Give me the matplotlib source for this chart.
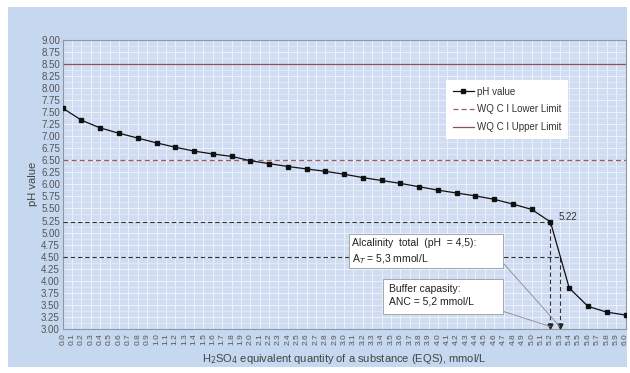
import numpy as np
import matplotlib
matplotlib.use("Agg")
import matplotlib.pyplot as plt
from matplotlib.patches import Rectangle
from matplotlib.ticker import MultipleLocator, FormatStrFormatter

plt.rcParams['font.family'] = ['Liberation Sans', 'DejaVu Sans']

# ---- data ----
eqs = [0.0, 0.2, 0.4, 0.6, 0.8, 1.0, 1.2, 1.4, 1.6, 1.8, 2.0, 2.2, 2.4, 2.6,
       2.8, 3.0, 3.2, 3.4, 3.6, 3.8, 4.0, 4.2, 4.4, 4.6, 4.8, 5.0, 5.2, 5.4,
       5.6, 5.8, 6.0]
ph = [7.58, 7.33, 7.17, 7.06, 6.96, 6.86, 6.77, 6.69, 6.63, 6.58, 6.49, 6.43,
      6.37, 6.32, 6.27, 6.21, 6.14, 6.08, 6.02, 5.95, 5.88, 5.82, 5.76, 5.69,
      5.59, 5.48, 5.22, 3.85, 3.47, 3.35, 3.29]
lower_limit = 6.5
upper_limit = 8.5
buffer_x, buffer_ph = 5.2, 5.22
alk_x, alk_ph = 5.3, 4.5
ymin, ymax = 3.0, 9.0
xmin, xmax = 0.0, 6.0

W, H = 630, 373
fig = plt.figure(figsize=(W/100, H/100), dpi=100, facecolor='white')
bg = '#c6d8ef'
fig.patches.append(Rectangle((8/W, 1-367/H), (627-8)/W, (367-7)/H,
                             transform=fig.transFigure, facecolor=bg,
                             edgecolor='none', zorder=-10))
ax_l, ax_r, ax_t, ax_b = 62.7, 625.5, 39.7, 329.0
ax = fig.add_axes([ax_l/W, 1-ax_b/H, (ax_r-ax_l)/W, (ax_b-ax_t)/H])
ax.set_facecolor('#cfdcf1')

def afrac(px, py):
    """pixel position -> axes fraction"""
    return ((px-ax_l)/(ax_r-ax_l), (ax_b-py)/(ax_b-ax_t))

ax.set_xlim(xmin, xmax)
ax.set_ylim(ymin, ymax)
ax.xaxis.set_major_locator(MultipleLocator(0.1))
ax.xaxis.set_major_formatter(FormatStrFormatter('%.1f'))
ax.yaxis.set_major_locator(MultipleLocator(0.25))
ax.yaxis.set_minor_locator(MultipleLocator(0.125))
ax.yaxis.set_major_formatter(FormatStrFormatter('%.2f'))
ax.grid(True, which='major', color='#eaf1fb', lw=0.8)
ax.grid(True, which='minor', axis='y', color='#e2eaf7', lw=0.6)
ax.set_axisbelow(True)
ax.tick_params(axis='x', labelrotation=90, labelsize=6, length=0,
               colors='#555555', pad=3)
ax.tick_params(axis='y', labelsize=7, length=0, colors='#555555', pad=2)
ax.tick_params(which='minor', length=0)
for s in ax.spines.values():
    s.set_color('#8d97a6')
    s.set_linewidth(0.8)

ax.set_ylabel('pH value', fontsize=8, color='#444444', labelpad=2)
ax.set_xlabel('H$_2$SO$_4$ equivalent quantity of a substance (EQS), mmol/L',
              fontsize=8, color='#444444', labelpad=5)

# limits
ax.axhline(lower_limit, color='#a0585a', lw=0.9, ls=(0, (4, 2.5)),
           label='WQ C I Lower Limit', zorder=2)
ax.axhline(upper_limit, color='#8e5062', lw=0.9, ls='-',
           label='WQ C I Upper Limit', zorder=2)

# guide lines
dash = (0, (4, 2.5))
ax.hlines(buffer_ph, xmin, buffer_x, color='#333333', lw=0.8, ls=dash, zorder=3)
ax.hlines(alk_ph, xmin, alk_x, color='#333333', lw=0.8, ls=dash, zorder=3)
ax.vlines(buffer_x, ymin + 0.04, buffer_ph, color='#333333', lw=0.8, ls=dash, zorder=3)
ax.vlines(alk_x, ymin + 0.04, alk_ph, color='#333333', lw=0.8, ls=dash, zorder=3)
ax.plot([buffer_x, alk_x], [ymin + 0.07, ymin + 0.07], ls='none', marker='v',
        ms=3.5, color='#222222', zorder=4)

# data
ax.plot(eqs, ph, color='#111111', lw=0.9, marker='s', ms=3.2, label='pH value',
        zorder=5)
ax.text(buffer_x + 0.09, buffer_ph + 0.1, '%.2f' % buffer_ph, fontsize=7,
        color='#333333', va='center', ha='left')

# annotation boxes (pixel-measured extents)
def note_box(x0, y0, x1, y1, lines, tx, ty, conn_from, conn_to_x):
    (fx0, fy1) = afrac(x0, y1)
    (fx1, fy0) = afrac(x1, y0)
    ax.add_patch(Rectangle((fx0, fy1), fx1-fx0, fy0-fy1, transform=ax.transAxes,
                           facecolor='white', edgecolor='#9a9a9a', lw=0.6,
                           zorder=6))
    for line, yy in zip(lines, ty):
        p = afrac(tx, yy)
        ax.text(p[0], p[1], line, transform=ax.transAxes, fontsize=7.5,
                color='#222222', ha='left', va='center', zorder=7)
    ax.annotate('', xy=(conn_to_x, ymin + 0.05), xycoords='data',
                xytext=afrac(*conn_from), textcoords='axes fraction',
                arrowprops=dict(arrowstyle='-', color='#8a8a8a', lw=0.6,
                                shrinkA=0, shrinkB=0), zorder=5)

note_box(349, 234, 503, 268,
         ['Alcalinity  total  (pH  = 4,5):', 'A$_T$ = 5,3 mmol/L'],
         352, [243, 259], (504, 264), alk_x)
note_box(383, 279, 503, 314,
         ['Buffer capasity:', 'ANC = 5,2 mmol/L'],
         389, [289, 302], (502, 311), buffer_x)

handles, labels = ax.get_legend_handles_labels()
order = [labels.index('pH value'), labels.index('WQ C I Lower Limit'),
         labels.index('WQ C I Upper Limit')]
leg = ax.legend([handles[i] for i in order], [labels[i] for i in order],
                loc='upper left', bbox_to_anchor=(441/W, 1-75/H),
                bbox_transform=fig.transFigure, fontsize=7, frameon=True,
                fancybox=False, framealpha=1, edgecolor='white',
                handlelength=2.2, handletextpad=0.3, borderpad=0.7,
                labelspacing=0.8, labelcolor='#333333')
leg.get_frame().set_linewidth(0)

fig.savefig('out.png', dpi=100, facecolor='white')
